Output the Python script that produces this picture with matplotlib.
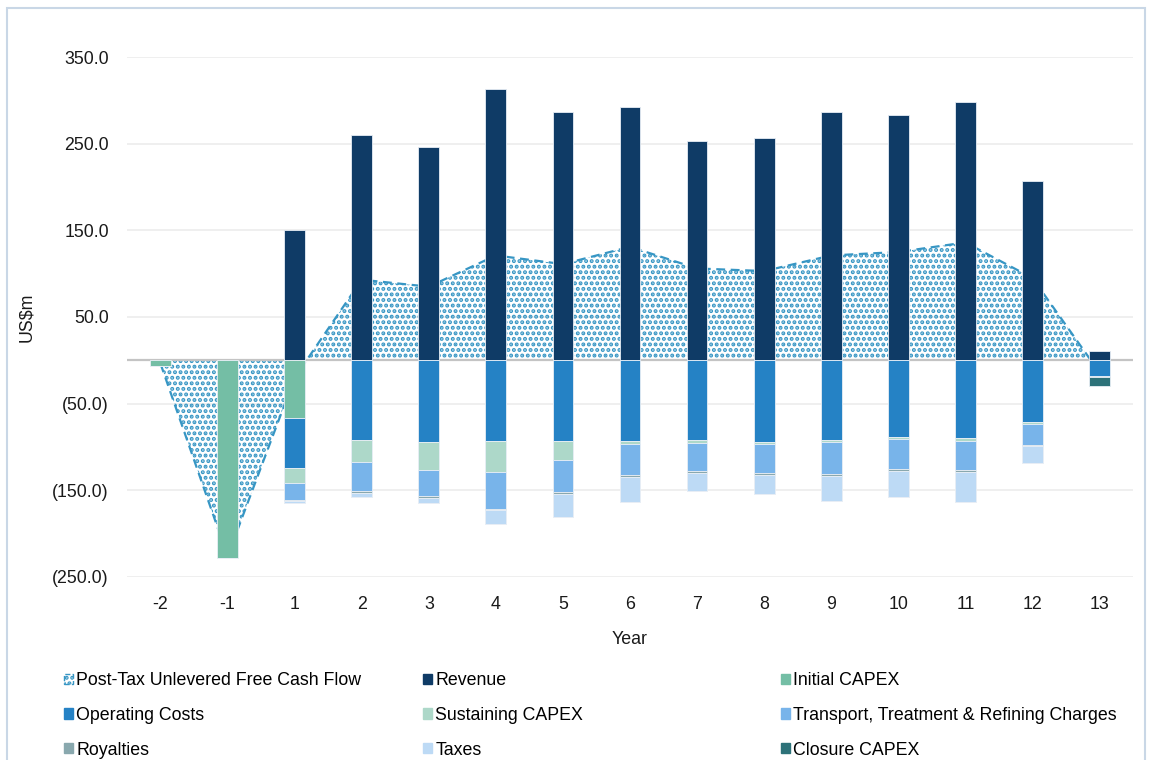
import numpy as np
import matplotlib
matplotlib.use('Agg')
import matplotlib.pyplot as plt
from matplotlib.patches import Patch, Rectangle

plt.rcParams['font.family'] = ['Liberation Sans', 'DejaVu Sans']
plt.rcParams['hatch.linewidth'] = 2.0

years = ['-2', '-1', '1', '2', '3', '4', '5', '6', '7', '8', '9', '10', '11', '12', '13']
fcf = [-4, -226, -20, 93, 85, 121, 111, 131, 106, 103, 121, 125, 136, 95, -14]
revenue = [0, 0, 150, 260, 246, 313, 287, 292, 253, 257, 286, 283, 298, 207, 11]
initial_capex = [-6, -228, -66, 0, 0, 0, 0, 0, 0, 0, 0, 0, 0, 0, 0]
operating = [0, 0, -58, -92, -94, -93, -93, -93, -92, -94, -92, -89, -90, -71, -18]
sustaining = [0, 0, -17, -25, -32, -36, -22, -3.5, -3, -3, -2.7, -2.3, -3, -2.3, 0]
ttr = [0, 0, -20, -34, -31, -42, -37.5, -36, -33, -33.5, -36.5, -34.6, -34, -24.6, -1.5]
royalties = [0, 0, -1.5, -2, -2, -1.5, -2, -2, -2, -2, -2, -1.5, -2.3, -1, 0]
taxes = [0, 0, -2, -5, -6, -16.5, -26, -29.5, -21, -22, -29.5, -30.8, -34, -20, 0]
closure = [0, 0, 0, 0, 0, 0, 0, 0, 0, 0, 0, 0, 0, 0, -10]

c_fcf = '#3796c4'
c_rev = '#0f3b66'
c_init = '#74bea5'
c_op = '#2582c5'
c_sus = '#add8c9'
c_ttr = '#78b4ea'
c_roy = '#89a8ae'
c_tax = '#bddaf5'
c_clo = '#2d7279'

fs = 12.8

fig = plt.figure(figsize=(11.61, 7.6), dpi=100)
ax = fig.add_axes([0.1094, 0.2408, 0.8665, 0.6842])

x = np.arange(len(years))

# free cash flow area
ax.fill_between(x, fcf, 0, facecolor='none', edgecolor=c_fcf, hatch='...', linewidth=0, zorder=1)
ax.plot(x, fcf, color=c_fcf, lw=1.6, ls=(0, (4, 2.5)), zorder=2)

ax.axhline(0, color='#c4c4c4', lw=1.6, zorder=2.5)

w = 0.31
ax.bar(x, revenue, w, color=c_rev, edgecolor='#e8eef5', lw=0.6, zorder=3)
neg = [(initial_capex, c_init), (operating, c_op), (sustaining, c_sus), (ttr, c_ttr),
       (royalties, c_roy), (taxes, c_tax), (closure, c_clo)]
bottom = np.zeros(len(years))
for vals, col in neg:
    vals = np.array(vals, dtype=float)
    ax.bar(x, vals, w, bottom=bottom, color=col, edgecolor='#e8eef5', lw=0.6, zorder=3)
    bottom = bottom + vals

ax.set_xlim(-0.5, len(years) - 0.5)
ax.set_ylim(-250, 350)
ticks = [350, 250, 150, 50, -50, -150, -250]
ax.set_yticks(ticks)
ax.set_yticklabels([f'{v:.1f}' if v >= 0 else f'({-v:.1f})' for v in ticks])
ax.set_xticks(x)
ax.set_xticklabels(years)
ax.grid(axis='y', color='#ececec', lw=1.2, zorder=0)
ax.set_axisbelow(True)
for s in ax.spines.values():
    s.set_visible(False)
ax.tick_params(length=0, labelsize=fs, colors='#1a1a1a')
ax.tick_params(axis='x', pad=14)
ax.tick_params(axis='y', pad=13)
ax.set_xlabel('Year', fontsize=fs, labelpad=13, color='#1a1a1a')
ax.set_ylabel('US$m', fontsize=fs, color='#1a1a1a')
ax.yaxis.set_label_coords(-0.091, 0.5)

# outer frame
fig.patches.append(Rectangle((7 / 1161, -0.02), 1138 / 1161, 1 - 8 / 760 + 0.02, transform=fig.transFigure,
                             fill=False, edgecolor='#c9d7e6', lw=1.5))

h = dict(fcf=Patch(facecolor='white', edgecolor=c_fcf, hatch='...', ls='--', lw=1.0),
         rev=Patch(color=c_rev), init=Patch(color=c_init), op=Patch(color=c_op),
         sus=Patch(color=c_sus), ttr=Patch(color=c_ttr), roy=Patch(color=c_roy),
         tax=Patch(color=c_tax), clo=Patch(color=c_clo))
cols = [
    ([h['fcf'], h['op'], h['roy']], ['Post-Tax Unlevered Free Cash Flow', 'Operating Costs', 'Royalties'], 64),
    ([h['rev'], h['sus'], h['tax']], ['Revenue', 'Sustaining CAPEX', 'Taxes'], 423),
    ([h['init'], h['ttr'], h['clo']], ['Initial CAPEX', 'Transport, Treatment & Refining Charges', 'Closure CAPEX'], 781),
]
for hs, labs, px in cols:
    fig.legend(hs, labs, loc='upper left', bbox_to_anchor=(px / 1161, 1 - 672 / 760),
               frameon=False, fontsize=fs, handlelength=0.5, handleheight=0.5,
               handletextpad=0.2, labelspacing=1.0, borderpad=0, borderaxespad=0)

fig.savefig('out.png', dpi=100)
